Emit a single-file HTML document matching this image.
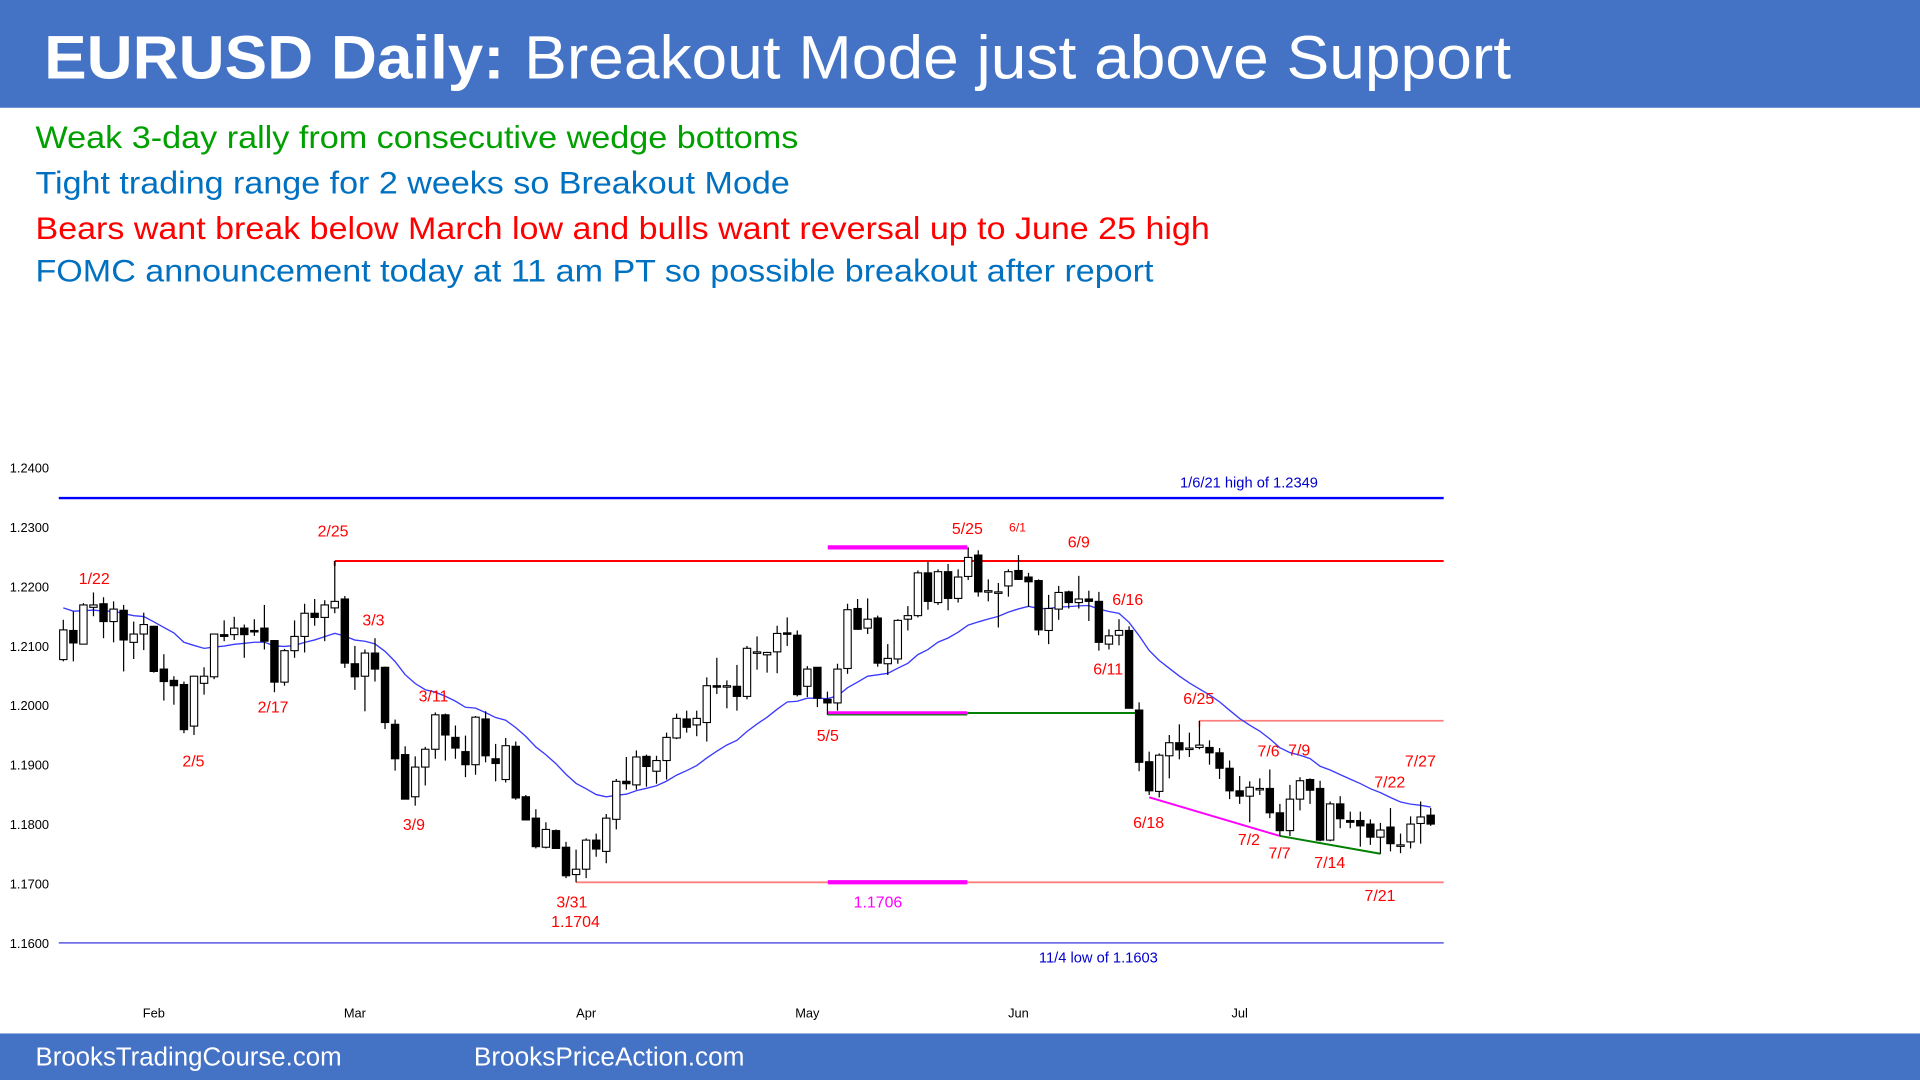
<!DOCTYPE html>
<html><head><meta charset="utf-8"><title>EURUSD Daily</title>
<style>html,body{margin:0;padding:0;background:#fff;overflow:hidden}svg{display:block}text{font-family:"Liberation Sans",sans-serif}</style>
</head><body>
<svg id="chart" width="1920" height="1080" viewBox="0 0 1568 882" xmlns="http://www.w3.org/2000/svg">
<rect x="0" y="0" width="1568" height="882" fill="#fff"/>
<rect x="0" y="0" width="1568" height="88" fill="#4472c4"/>
<text x="36" y="64" font-size="50" font-weight="bold" fill="#fff" textLength="376" lengthAdjust="spacingAndGlyphs">EURUSD Daily:</text>
<text x="428" y="64" font-size="50" fill="#fff" textLength="806" lengthAdjust="spacingAndGlyphs">Breakout Mode just above Support</text>
<text x="29" y="121" font-size="26" fill="#00a000" textLength="623" lengthAdjust="spacingAndGlyphs">Weak 3-day rally from consecutive wedge bottoms</text>
<text x="29" y="158" font-size="26" fill="#0070c0" textLength="616" lengthAdjust="spacingAndGlyphs">Tight trading range for 2 weeks so Breakout Mode</text>
<text x="29" y="195" font-size="26" fill="#ff0000" textLength="959" lengthAdjust="spacingAndGlyphs">Bears want break below March low and bulls want reversal up to June 25 high</text>
<text x="29" y="230" font-size="26" fill="#0070c0" textLength="913" lengthAdjust="spacingAndGlyphs">FOMC announcement today at 11 am PT so possible breakout after report</text>
<rect x="0" y="844" width="1568" height="38" fill="#4472c4"/>
<text x="29" y="870" font-size="21" fill="#fff" textLength="250" lengthAdjust="spacingAndGlyphs">BrooksTradingCourse.com</text>
<text x="387" y="870" font-size="21" fill="#fff" textLength="221" lengthAdjust="spacingAndGlyphs">BrooksPriceAction.com</text>
<g id="plot"></g>
</svg>
<script>
const yTicks=[1.24,1.23,1.22,1.21,1.20,1.19,1.18,1.17,1.16];
const monthLabels=["Feb","Mar","Apr","May","Jun","Jul"];
const monthIndex=[9,29,52,74,95,117];
const opens=[1.2077,1.2126,1.2103,1.2165,1.2171,1.2141,1.2160,1.2106,1.2120,1.2133,1.2061,1.2042,1.2035,1.1965,1.2037,1.2048,1.2119,1.2119,1.2130,1.2126,1.2130,1.2109,1.2039,1.2092,1.2116,1.2155,1.2148,1.2164,1.2179,1.2070,1.2049,1.2088,1.2064,1.1968,1.1917,1.1846,1.1896,1.1926,1.1984,1.1946,1.1922,1.1900,1.1977,1.1910,1.1875,1.1931,1.1846,1.1810,1.1761,1.1789,1.1761,1.1715,1.1724,1.1773,1.1754,1.1808,1.1872,1.1866,1.1914,1.1889,1.1907,1.1945,1.1977,1.1967,1.1971,1.2033,1.2033,1.2032,1.2015,1.2090,1.2085,1.2090,1.2122,1.2118,1.2032,1.2064,1.2010,1.2004,1.2062,1.2163,1.2130,1.2147,1.2070,1.2078,1.2145,1.2151,1.2223,1.2173,1.2225,1.2180,1.2217,1.2253,1.2191,1.2191,1.2201,1.2227,1.2216,1.2210,1.2126,1.2162,1.2191,1.2173,1.2179,1.2175,1.2103,1.2118,1.2126,1.1992,1.1905,1.1855,1.1915,1.1937,1.1928,1.1929,1.1929,1.1920,1.1894,1.1856,1.1847,1.1860,1.1860,1.1819,1.1789,1.1842,1.1875,1.1860,1.1773,1.1834,1.1806,1.1806,1.1800,1.1778,1.1795,1.1765,1.1770,1.1801,1.1815];
const highs=[1.2144,1.2158,1.2172,1.2190,1.2182,1.2175,1.2169,1.2141,1.2156,1.2134,1.2086,1.2049,1.2040,1.2050,1.2064,1.2120,1.2143,1.2149,1.2136,1.2145,1.2169,1.2109,1.2095,1.2143,1.2171,1.2179,1.2177,1.2243,1.2184,1.2100,1.2094,1.2113,1.2065,1.1976,1.1931,1.1914,1.1930,1.1988,1.1986,1.1966,1.1949,1.1982,1.1990,1.1935,1.1945,1.1939,1.1849,1.1825,1.1803,1.1791,1.1770,1.1757,1.1776,1.1784,1.1817,1.1876,1.1913,1.1924,1.1917,1.1915,1.1954,1.1986,1.1991,1.1991,1.2047,1.2080,1.2042,1.2068,1.2100,1.2116,1.2090,1.2134,1.2148,1.2126,1.2066,1.2064,1.2023,1.2070,1.2171,1.2179,1.2180,1.2151,1.2103,1.2145,1.2167,1.2227,1.2242,1.2229,1.2238,1.2229,1.2266,1.2261,1.2212,1.2206,1.2229,1.2253,1.2223,1.2212,1.2186,1.2201,1.2193,1.2218,1.2193,1.2191,1.2128,1.2145,1.2133,1.2005,1.1922,1.1919,1.1950,1.1968,1.1954,1.1974,1.1941,1.1928,1.1907,1.1881,1.1872,1.1877,1.1892,1.1834,1.1866,1.1879,1.1877,1.1873,1.1838,1.1847,1.1821,1.1821,1.1808,1.1802,1.1827,1.1784,1.1813,1.1838,1.1827];
const lows=[1.2074,1.2074,1.2103,1.2150,1.2113,1.2106,1.2057,1.2078,1.2093,1.2055,1.2008,1.2001,1.1953,1.1950,1.2018,1.2044,1.2108,1.2110,1.2080,1.2117,1.2094,1.2022,1.2033,1.2080,1.2089,1.2134,1.2108,1.2155,1.2063,1.2026,1.1990,1.2040,1.1960,1.1890,1.1842,1.1831,1.1865,1.1910,1.1907,1.1910,1.1879,1.1883,1.1904,1.1872,1.1870,1.1841,1.1806,1.1759,1.1759,1.1758,1.1709,1.1702,1.1709,1.1745,1.1734,1.1791,1.1858,1.1858,1.1863,1.1868,1.1875,1.1943,1.1954,1.1948,1.1939,1.2019,1.1995,1.1991,1.2010,1.2060,1.2055,1.2054,1.2100,1.2015,1.2014,1.1997,1.1984,1.1991,1.2053,1.2127,1.2120,1.2065,1.2051,1.2070,1.2126,1.2148,1.2161,1.2169,1.2160,1.2173,1.2211,1.2183,1.2175,1.2131,1.2183,1.2211,1.2166,1.2118,1.2103,1.2144,1.2163,1.2163,1.2142,1.2092,1.2094,1.2101,1.1995,1.1889,1.1849,1.1845,1.1877,1.1909,1.1913,1.1926,1.1900,1.1876,1.1842,1.1834,1.1803,1.1849,1.1810,1.1780,1.1780,1.1823,1.1834,1.1771,1.1771,1.1793,1.1793,1.1762,1.1765,1.1750,1.1754,1.1751,1.1759,1.1767,1.1797];
const closes=[1.2127,1.2105,1.2169,1.2169,1.2141,1.2162,1.2110,1.2120,1.2136,1.2057,1.2040,1.2033,1.1959,1.2049,1.2049,1.2120,1.2116,1.2130,1.2119,1.2125,1.2108,1.2039,1.2092,1.2116,1.2155,1.2148,1.2169,1.2175,1.2071,1.2048,1.2088,1.2061,1.1971,1.1910,1.1842,1.1896,1.1926,1.1984,1.1950,1.1928,1.1900,1.1980,1.1915,1.1902,1.1932,1.1844,1.1807,1.1762,1.1791,1.1759,1.1713,1.1724,1.1773,1.1758,1.1810,1.1872,1.1868,1.1913,1.1897,1.1907,1.1946,1.1978,1.1963,1.1978,1.2033,1.2032,1.2033,1.2015,1.2096,1.2090,1.2089,1.2121,1.2120,1.2018,1.2061,1.2012,1.2004,1.2061,1.2161,1.2128,1.2145,1.2071,1.2079,1.2143,1.2151,1.2223,1.2175,1.2225,1.2180,1.2216,1.2249,1.2191,1.2193,1.2191,1.2225,1.2212,1.2208,1.2127,1.2163,1.2190,1.2173,1.2179,1.2175,1.2106,1.2117,1.2126,1.1995,1.1904,1.1856,1.1916,1.1937,1.1925,1.1928,1.1933,1.1920,1.1894,1.1856,1.1847,1.1862,1.1860,1.1819,1.1789,1.1842,1.1873,1.1857,1.1773,1.1834,1.1809,1.1803,1.1797,1.1778,1.1790,1.1767,1.1765,1.1800,1.1812,1.1800];
const emaSeed=1.2168;
const dateLabels=["1/22","2/5","2/17","2/25","3/3","3/11","3/9","3/31","1.1704","5/5","5/25","6/1","6/9","6/16","6/11","6/25","6/18","7/6","7/9","7/2","7/7","7/14","7/22","7/27","7/21"];
const dateLabelPos=[[77,477],[158,626],[223,582],[272,438],[305,511],[354,573],[338,678],[467,741],[470,757],[676,605],[790,436],[831,434],[881,447],[921,494],[905,551],[979,575],[938,676],[1036,618],[1061,617],[1020,690],[1045,701],[1086,709],[1135,643],[1160,626],[1127,736]];

const NS="http://www.w3.org/2000/svg";
const plot=document.getElementById('plot');
const Y0=382, PPU=4850;
function yScale(p){return Y0+(1.24-p)*PPU;}
function xScale(i){return 51.7+i*8.211;}
function mk(tag,attrs,parent){const e=document.createElementNS(NS,tag);for(const k in attrs)e.setAttribute(k,attrs[k]);(parent||plot).appendChild(e);return e;}

yTicks.forEach(t=>{
  const tx=mk('text',{x:8,y:yScale(t)+4,'font-size':10.5,fill:'#000'});
  tx.textContent=t.toFixed(4);
  
  
});
monthLabels.forEach((m,i)=>{
  const tx=mk('text',{x:xScale(monthIndex[i]),y:831,'font-size':10.5,fill:'#000','text-anchor':'middle'});
  tx.textContent=m;
  
  
});

function hline(p,x1,x2,color,w,name){
  const l=mk('line',{x1:x1,x2:x2,y1:yScale(p),y2:yScale(p),stroke:color,'stroke-width':w});
  
  
  return l;
}
hline(1.2349,48,1179,'#0000ff',2,'high-1-6-21-line');
hline(1.1600,48,1179,'#7070e8',1.5,'low-11-4-line');
hline(1.2243,xScale(27),1179,'#ff0000',1.6,'high-2-25-line');
mk('line',{x1:xScale(27),x2:xScale(27),y1:yScale(1.2243),y2:yScale(1.2243)+4,stroke:'#ff0000','stroke-width':1.6});
hline(1.2266,676,790,'#ff00ff',3.5,'high-5-25-bar');
hline(1.1987,790,930,'#008000',1.6,'low-5-5-extension');
hline(1.1987,676,790,'#ff00ff',3,'low-5-5-bar');
mk('line',{x1:676,x2:790,y1:yScale(1.1987)+1.5,y2:yScale(1.1987)+1.5,stroke:'#008000','stroke-width':1});
hline(1.1702,xScale(51),1179,'#ff7f7f',1.5,'low-3-31-line');
hline(1.1702,676,790,'#ff00ff',3.5,'level-1-1706-bar');
hline(1.1974,xScale(113),1179,'#ff7f7f',1.5,'high-6-25-line');
mk('line',{x1:xScale(113),x2:xScale(113),y1:yScale(1.1974),y2:yScale(1.1974)+5,stroke:'#ff7f7f','stroke-width':1.5});
let wl=mk('line',{x1:xScale(108),y1:yScale(1.1845),x2:xScale(121),y2:yScale(1.1780),stroke:'#ff00ff','stroke-width':1.6});


let gl=mk('line',{x1:xScale(121),y1:yScale(1.1780),x2:xScale(131),y2:yScale(1.1750),stroke:'#008000','stroke-width':1.6});



let ema=emaSeed, pts=[];
const k=2/21;
closes.forEach((c,i)=>{ema=c*k+ema*(1-k);pts.push(xScale(i).toFixed(1)+','+yScale(ema).toFixed(1));});
const emaLine=mk('polyline',{points:pts.join(' '),fill:'none',stroke:'#3a3aff','stroke-width':1.1});



closes.forEach((c,i)=>{
  const o=opens[i],h=highs[i],l=lows[i],x=xScale(i);
  const g=mk('g',{});
  
  
  mk('line',{x1:x,x2:x,y1:yScale(h),y2:yScale(l),stroke:'#000','stroke-width':1},g);
  const top=yScale(Math.max(o,c)),bot=yScale(Math.min(o,c));
  mk('rect',{x:x-3,y:top,width:6,height:Math.max(bot-top,1.2),fill:c>=o?'#fff':'#000',stroke:'#000','stroke-width':0.9},g);
});

dateLabels.forEach((t,i)=>{
  const tx=mk('text',{x:dateLabelPos[i][0],y:dateLabelPos[i][1],'font-size':t==='6/1'?10:13,fill:'#ff0000','text-anchor':'middle'});
  tx.textContent=t;
  
  
});
let t1=mk('text',{x:717,y:741,'font-size':13,fill:'#ff00ff','text-anchor':'middle'});t1.textContent='1.1706';


let t2=mk('text',{x:1020,y:398,'font-size':12,fill:'#0000cc','text-anchor':'middle'});t2.textContent='1/6/21 high of 1.2349';


let t3=mk('text',{x:897,y:786,'font-size':12,fill:'#0000cc','text-anchor':'middle'});t3.textContent='11/4 low of 1.1603';


</script>
</body></html>
